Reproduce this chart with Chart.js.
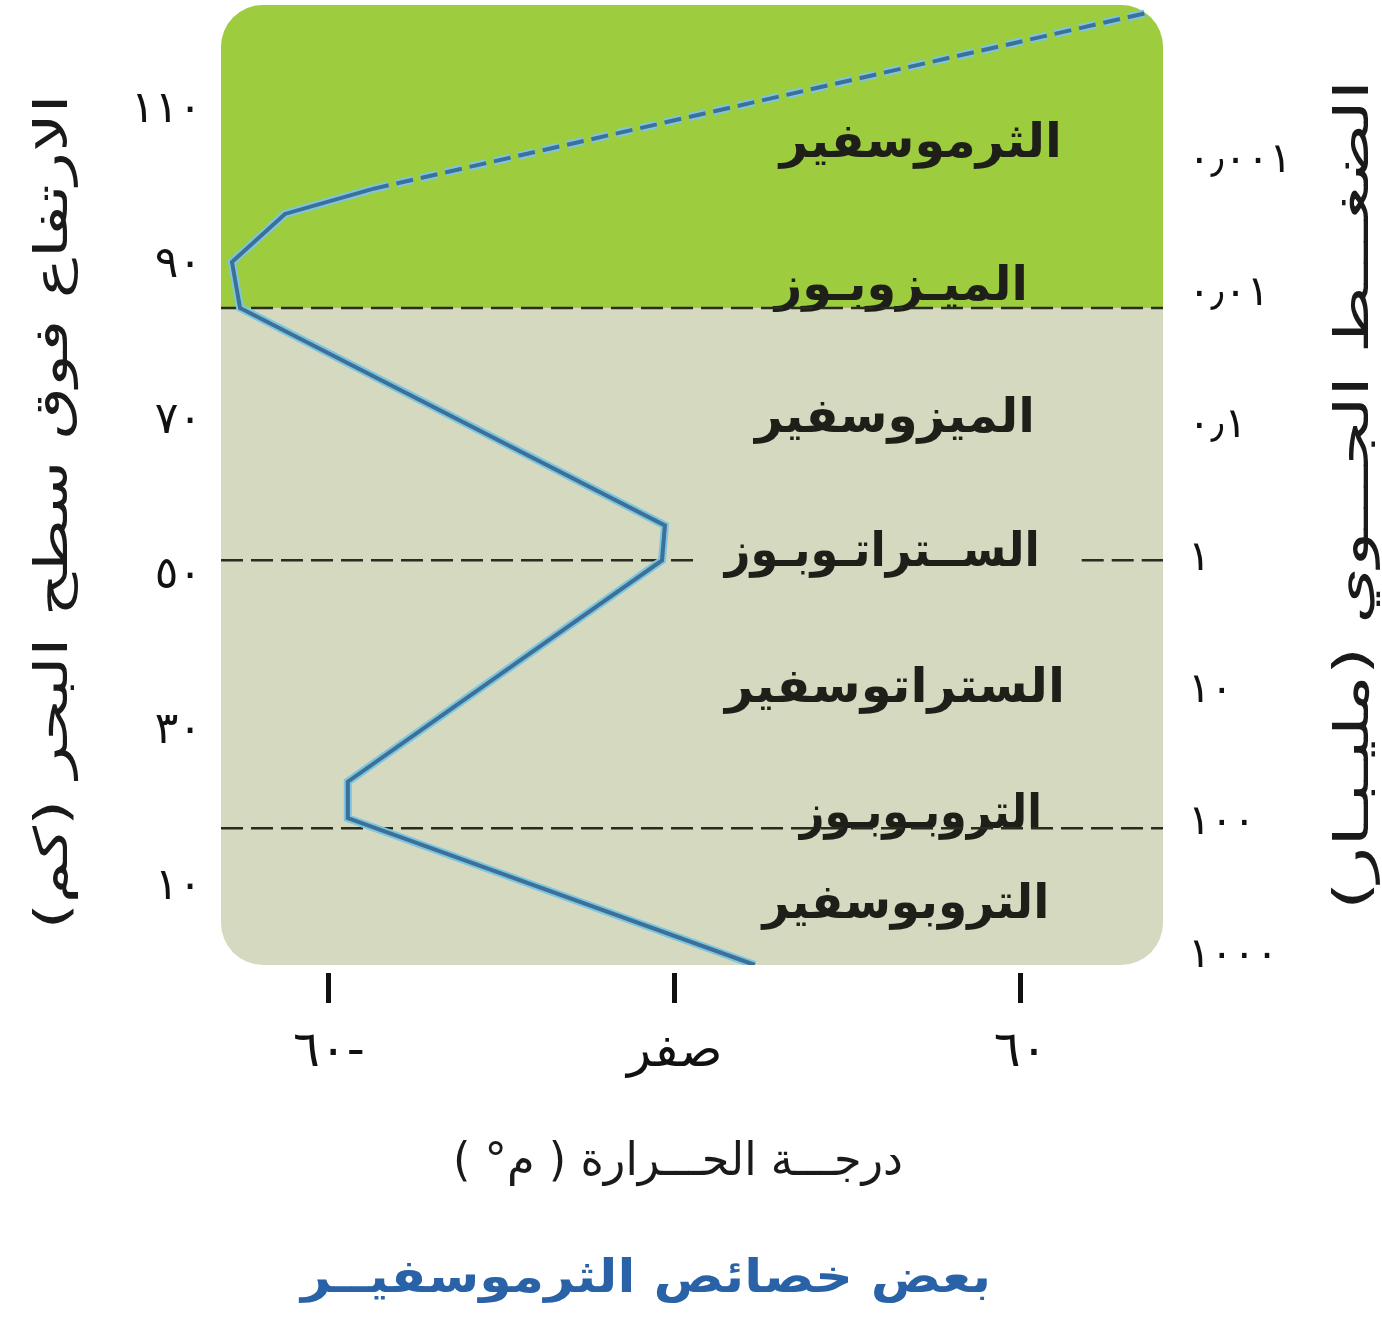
<!DOCTYPE html>
<html><head><meta charset="utf-8">
<script src="https://cdn.jsdelivr.net/npm/chart.js@4.4.1/dist/chart.umd.min.js"></script>
<style>html,body{margin:0;padding:0;background:#fff;}#wrap{width:1382px;height:1332px;}</style>
</head><body><div id="wrap"><canvas id="c" width="1382" height="1332"></canvas></div>
<script>
// ---- data ----
// temperature profile: temperature (°C) against altitude (km)
const profileTemp = [13.9, -56.7, -56.7, -2.2, -1.7, -75.4, -76.8, -67.6, -52.5, 82.0];
const profileAlt  = [0, 18.9, 23.6, 52.1, 56.6, 84.6, 90.5, 96.7, 99.9, 122.6];
const solidPointCount = 9;            // last segment is drawn dashed
// layer boundaries (km)
const boundaryAlt = [84.6, 52.1, 17.6]; // mesopause, stratopause, tropopause
// layer / boundary names (top to bottom)
const layerNames = ['الثرموسفير','الميـزوبـوز','الميزوسفير','الســتراتـوبـوز','الستراتوسفير','التروبـوبـوز','التروبوسفير'];
// tick values and labels
const altTicks = [10, 30, 50, 70, 90, 110];
const altTickLabels = ['١٠','٣٠','٥٠','٧٠','٩٠','١١٠'];
const tempTicks = [-60, 0, 60];
const tempTickLabels = ['٦٠-','صفر','٦٠'];
const pressureTicks = [0.001, 0.01, 0.1, 1, 10, 100, 1000];
const pressureTickLabels = ['٠٫٠٠١','٠٫٠١','٠٫١','١','١٠','١٠٠','١٠٠٠'];
const yTitle = 'الارتفاع فوق سطح البحر (كم)';
const pTitle = 'الضغـــط الجـــوي (مليـبـار)';
const xTitle = 'درجـــة الحـــرارة ( م° )';
const caption = 'بعض خصائص الثرموسفيــر';

// ---- layout / style ----
const X_MIN = -78.7, X_MAX = 84.7;
const Y_MIN = 0, Y_MAX = 123.6;
const P_MIN = 6.58e-5, P_MAX = 1172;
const FONT = "'DejaVu Sans', sans-serif";
const GREEN = '#9dcc3e', BEIGE = '#d5d9bf';
// label anchors in data units (temperature, altitude) + target text width px
const layerLabelAnchor = [
  {t: 42.7, a: 105.6, w: 282}, {t: 39.3, a: 87.2, w: 253}, {t: 38.2, a: 70.2, w: 280},
  {t: 36.0, a: 53.0, w: 315},  {t: 38.2, a: 35.5, w: 340}, {t: 42.7, a: 19.2, w: 242},
  {t: 40.1, a: 7.6, w: 287}
];
const stratoGap = [3.9, 70.6]; // dashed stratopause line interrupted by its label

const profile = profileTemp.map((t, i) => ({x: t, y: profileAlt[i]}));
function boundaryData(i) {
  const a = boundaryAlt[i];
  if (i === 1) return [{x: X_MIN, y: a}, {x: stratoGap[0], y: a}, {x: 37, y: null}, {x: stratoGap[1], y: a}, {x: X_MAX, y: a}];
  return [{x: X_MIN, y: a}, {x: X_MAX, y: a}];
}
const dashSeg = {borderDash: c => c.p0DataIndex >= solidPointCount - 1 ? [17, 8] : undefined};
const noPad = s => { s.paddingTop = 0; s.paddingBottom = 0; s.paddingLeft = 0; s.paddingRight = 0; };

function drawText(ctx, text, x, y, targetW, size, rot, color, weight) {
  ctx.save();
  ctx.font = (weight || 'normal') + ' ' + size + 'px ' + FONT;
  ctx.direction = 'rtl';
  ctx.textAlign = 'center';
  ctx.textBaseline = 'middle';
  const w = ctx.measureText(text).width;
  let sx = targetW ? targetW / w : 1;
  sx = Math.max(0.55, Math.min(1.6, sx));
  ctx.translate(x, y);
  ctx.rotate(rot || 0);
  ctx.scale(sx, 1);
  ctx.fillStyle = color;
  ctx.fillText(text, 0, 0);
  ctx.restore();
}

const decor = {
  id: 'decor',
  beforeDatasetsDraw(chart) {
    const {ctx, chartArea: a, scales} = chart;
    ctx.save();
    ctx.beginPath();
    ctx.roundRect(a.left, a.top, a.right - a.left, a.bottom - a.top, 42);
    ctx.clip();
    ctx.fillStyle = BEIGE;
    ctx.fillRect(a.left, a.top, a.right - a.left, a.bottom - a.top);
    const yM = scales.y.getPixelForValue(boundaryAlt[0]);
    ctx.fillStyle = GREEN;
    ctx.fillRect(a.left, a.top, a.right - a.left, yM - a.top);
    ctx.restore();
    layerNames.forEach((n, i) => {
      const p = layerLabelAnchor[i];
      drawText(ctx, n, scales.x.getPixelForValue(p.t), scales.y.getPixelForValue(p.a), p.w, 48, 0, '#1f1f1a', '600');
    });
  },
  afterDraw(chart) {
    const {ctx} = chart;
    drawText(ctx, yTitle, 55, 512, 835, 46, -Math.PI / 2, '#1a1a1a');
    drawText(ctx, pTitle, 1356, 495, 830, 48, -Math.PI / 2, '#1a1a1a');
    drawText(ctx, xTitle, 678, 1163, 450, 46, 0, '#1a1a1a');
    drawText(ctx, caption, 646, 1280, 690, 46, 0, '#2a62a8', 'bold');
  }
};

new Chart(document.getElementById('c'), {
  type: 'scatter',
  data: {
    datasets: [
      {data: profile, showLine: true, borderColor: '#3d6f98', borderWidth: 4, pointRadius: 0, tension: 0, segment: dashSeg, yAxisID: 'y'},
      {data: profile, showLine: true, borderColor: '#7cc6df', borderWidth: 8, pointRadius: 0, tension: 0, segment: dashSeg, yAxisID: 'y'},
      ...[0, 1, 2].map(i => ({data: boundaryData(i), showLine: true, spanGaps: false, borderColor: '#2b2b22', borderWidth: 2.5, borderDash: [22, 8], pointRadius: 0, yAxisID: 'y'}))
    ]
  },
  options: {
    responsive: false, animation: false, devicePixelRatio: 1,
    layout: {padding: {top: 5, left: 0, right: 0, bottom: 0}},
    plugins: {legend: {display: false}, tooltip: {enabled: false}, title: {display: false}},
    scales: {
      x: {
        type: 'linear', position: 'bottom', min: X_MIN, max: X_MAX,
        afterBuildTicks: s => { s.ticks = tempTicks.map(v => ({value: v})); },
        afterFit: s => { s.height = 1332 - 965; noPad(s); },
        ticks: {callback: (v, i) => tempTickLabels[i], font: {family: FONT, size: 50}, color: '#111', padding: 20, maxRotation: 0, autoSkip: false},
        grid: {drawOnChartArea: false, drawTicks: true, tickLength: 38, tickWidth: 5, tickColor: '#111', tickBorderDash: [0, 8, 30, 300]},
        border: {display: false}
      },
      y: {
        type: 'linear', position: 'left', min: Y_MIN, max: Y_MAX,
        afterBuildTicks: s => { s.ticks = altTicks.map(v => ({value: v})); },
        afterFit: s => { s.width = 221; noPad(s); },
        ticks: {callback: (v, i) => altTickLabels[i], font: {family: FONT, size: 44}, color: '#111', padding: 19, autoSkip: false},
        grid: {display: false, drawTicks: false},
        border: {display: false}
      },
      p: {
        type: 'logarithmic', position: 'right', reverse: true, min: P_MIN, max: P_MAX,
        afterBuildTicks: s => { s.ticks = pressureTicks.map(v => ({value: v})); },
        afterFit: s => { s.width = 1382 - 1163; noPad(s); },
        ticks: {callback: (v, i) => pressureTickLabels[i], font: {family: FONT, size: 42}, color: '#111', padding: 25, autoSkip: false},
        grid: {display: false, drawTicks: false},
        border: {display: false}
      }
    }
  },
  plugins: [decor]
});
</script></body></html>
